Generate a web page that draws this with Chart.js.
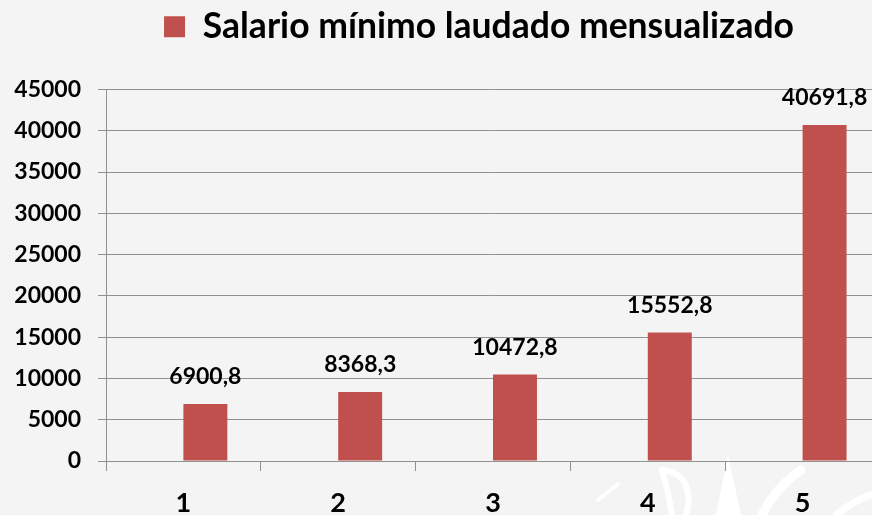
<!DOCTYPE html>
<html>
<head>
<meta charset="utf-8">
<script src="https://cdn.jsdelivr.net/npm/chart.js@4.4.1/dist/chart.umd.min.js"></script>
<style>
  html, body { margin: 0; padding: 0; background: #f4f4f4; overflow: hidden; }
  #wrap { position: absolute; left: 0; top: 0; width: 954px; height: 515px; }
</style>
</head>
<body>
<div id="wrap"><canvas id="c" width="954" height="515"></canvas></div>
<script>
const categories = ['1', '2', '3', '4', '5'];
const seriesName = 'Salario mínimo laudado mensualizado';
const salario = [6900.8, 8368.3, 10472.8, 15552.8, 40691.8];
const emptySeries = [null, null, null, null, null];
const yTicks = [0, 5000, 10000, 15000, 20000, 25000, 30000, 35000, 40000, 45000];

const FONT = 'Lato, "Open Sans", sans-serif';
const GRID = '#919191';

// faint white decorative watermark in the lower-right corner of the picture
const watermark = {
  id: 'watermark',
  beforeDraw(chart) {
    const ctx = chart.ctx;
    ctx.save();
    ctx.fillStyle = '#ffffff';
    ctx.strokeStyle = '#ffffff';
    ctx.lineCap = 'round';
    // thin diagonal at far left
    ctx.lineWidth = 4;
    ctx.beginPath();
    ctx.moveTo(598, 500); ctx.lineTo(618, 484);
    ctx.stroke();
    // leaf-like flame outline
    ctx.lineWidth = 6;
    ctx.beginPath();
    ctx.moveTo(662, 470);
    ctx.quadraticCurveTo(684, 472, 688, 492);
    ctx.quadraticCurveTo(690, 505, 686, 515);
    ctx.stroke();
    ctx.beginPath();
    ctx.moveTo(662, 470);
    ctx.quadraticCurveTo(668, 490, 672, 515);
    ctx.stroke();
    // tall spike
    ctx.beginPath();
    ctx.moveTo(728, 455);
    ctx.lineTo(741, 515);
    ctx.lineTo(716, 515);
    ctx.closePath();
    ctx.fill();
    // sweeping curve
    ctx.lineWidth = 9;
    ctx.beginPath();
    ctx.moveTo(801, 470);
    ctx.quadraticCurveTo(775, 488, 762, 515);
    ctx.stroke();
    // right flame
    ctx.lineWidth = 7;
    ctx.beginPath();
    ctx.moveTo(872, 494);
    ctx.quadraticCurveTo(850, 503, 836, 515);
    ctx.stroke();
    ctx.restore();
  }
};

const dataLabels = {
  id: 'dataLabels',
  afterDatasetsDraw(chart) {
    const ctx = chart.ctx;
    const meta = chart.getDatasetMeta(1);
    ctx.save();
    ctx.font = 'bold 23px ' + FONT;
    ctx.fillStyle = '#000';
    ctx.textAlign = 'center';
    ctx.textBaseline = 'alphabetic';
    meta.data.forEach((bar, i) => {
      const txt = salario[i].toFixed(1).replace('.', ',');
      ctx.fillText(txt, bar.x, bar.y - 20);
    });
    ctx.restore();
  }
};

new Chart(document.getElementById('c'), {
  type: 'bar',
  data: {
    labels: categories,
    datasets: [
      { label: '', data: emptySeries, backgroundColor: 'rgba(0,0,0,0)' },
      { label: seriesName, data: salario, backgroundColor: '#c0504d' }
    ]
  },
  options: {
    responsive: false,
    animation: false,
    devicePixelRatio: 1,
    categoryPercentage: 0.568,
    barPercentage: 1.0,
    layout: { padding: { top: 0, left: 4, right: 0, bottom: 0 } },
    plugins: {
      tooltip: { enabled: false },
      legend: {
        display: true,
        position: 'top',
        weight: 1000,
        labels: {
          filter: (item) => item.text !== '',
          boxWidth: 21,
          boxHeight: 21,
          color: '#000',
          padding: 9,
          font: { family: FONT, size: 35.5, weight: 'bold' }
        }
      },
      title: {
        display: true,
        text: '',
        position: 'top',
        weight: 500,
        padding: 12.5,
        font: { size: 10, lineHeight: 1 }
      }
    },
    scales: {
      x: {
        offset: true,
        grid: { display: true, drawOnChartArea: false, drawTicks: true, tickLength: 10, color: GRID, lineWidth: 1 },
        border: { display: true, color: GRID, width: 1 },
        ticks: { color: '#000', padding: 16, font: { family: FONT, size: 27, weight: 'bold' } },
        afterFit(scale) { scale.height = 54; }
      },
      y: {
        min: 0,
        max: 45000,
        afterBuildTicks(scale) { scale.ticks = yTicks.map(v => ({ value: v })); },
        grid: { display: true, drawOnChartArea: true, drawTicks: true, tickLength: 8, color: GRID, lineWidth: 1 },
        border: { display: true, color: GRID, width: 1 },
        ticks: {
          color: '#000', padding: 17,
          font: { family: FONT, size: 23, weight: 'bold' },
          callback: (v) => String(v)
        },
        afterFit(scale) { scale.width = 102; }
      },
      y2: {
        position: 'right',
        display: true,
        grid: { display: false },
        border: { display: false },
        ticks: { display: false },
        afterFit(scale) { scale.width = 74; }
      }
    }
  },
  plugins: [watermark, dataLabels]
});
</script>
</body>
</html>
